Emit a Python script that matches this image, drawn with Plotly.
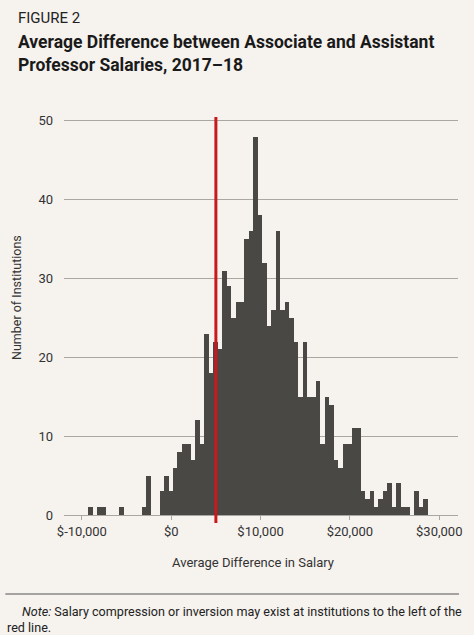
import plotly.graph_objects as go

# ── Data: histogram bins of 500 ($ left edge) and institution counts ──────────
BIN_WIDTH = 500
bin_left = [
    -9300, -8800, -8300, -7800, -7300, -6800, -6300, -5800, -5300, -4800,
    -4300, -3800, -3300, -2800, -2300, -1800, -1300, -800, -300, 200,
    700, 1200, 1700, 2200, 2700, 3200, 3700, 4200, 4700, 5200,
    5700, 6200, 6700, 7200, 7700, 8200, 8700, 9200, 9700, 10200,
    10700, 11200, 11700, 12200, 12700, 13200, 13700, 14200, 14700, 15200,
    15700, 16200, 16700, 17200, 17700, 18200, 18700, 19200, 19700, 20200,
    20700, 21200, 21700, 22200, 22700, 23200, 23700, 24200, 24700, 25200,
    25700, 26200, 26700, 27200, 27700, 28200,
]
counts = [
    1, 0, 1, 1, 0, 0, 0, 1, 0, 0,
    0, 0, 1, 5, 0, 0, 3, 5, 3, 6,
    8, 9, 9, 7, 12, 9, 23, 18, 22, 21,
    31, 29, 25, 27, 27, 35, 36, 48, 38, 32,
    24, 26, 36, 26, 27, 25, 22, 15, 22, 15,
    15, 17, 9, 15, 14, 7, 6, 9, 9, 11,
    11, 3, 2, 3, 1, 2, 3, 4, 1, 4,
    1, 1, 0, 3, 1, 2,
]
threshold = 5000  # red line

x_tickvals = [-10000, 0, 10000, 20000, 30000]
x_ticktext = ["$-10,000", "$0", "$10,000", "$20,000", "$30,000"]
y_tickvals = [0, 10, 20, 30, 40, 50]

BG = "#f6f2ee"
BAR = "#4a4845"
RED = "#c8191f"
GRID = "#aaa6a1"
FONT = "Roboto, Arial, sans-serif"

bin_center = [b + BIN_WIDTH / 2 for b in bin_left]

fig = go.Figure()
fig.add_trace(go.Bar(
    x=bin_center, y=counts, width=BIN_WIDTH,
    marker=dict(color=BAR, line=dict(width=0)),
    hoverinfo="x+y", showlegend=False,
))

# red reference line, poking slightly below the axis
fig.add_shape(
    type="line", xref="x", yref="paper",
    x0=threshold, x1=threshold, y0=-0.02, y1=0.99,
    line=dict(color=RED, width=3), layer="above",
)

fig.update_layout(
    width=474, height=635,
    margin=dict(l=64, r=14, t=113, b=120),
    paper_bgcolor=BG, plot_bgcolor=BG,
    font=dict(family=FONT, color="#333333", size=13),
    bargap=0,
    xaxis=dict(
        range=[-12000, 32100],
        tickvals=x_tickvals, ticktext=x_ticktext,
        showgrid=False, zeroline=False,
        showline=True, linecolor=GRID, linewidth=1,
        ticks="outside", ticklen=4, tickcolor=GRID,
        tickfont=dict(size=13, color="#333333"),
        fixedrange=True,
    ),
    yaxis=dict(
        range=[0, 51],
        tickvals=y_tickvals,
        showgrid=True, gridcolor=GRID, gridwidth=1,
        zeroline=False, showline=False,
        ticks="", ticklabelstandoff=10,
        tickfont=dict(size=13, color="#333333"),
        fixedrange=True,
    ),
)

# ── Titles and notes ───────────────────────────────────────────────────────────
fig.add_annotation(
    text="FIGURE 2", xref="paper", yref="paper",
    x=-0.121, y=1.236, xanchor="left", yanchor="middle", showarrow=False,
    font=dict(family=FONT, size=15, color="#222222"),
)
fig.add_annotation(
    text="<b>Average Difference between Associate and Assistant<br>"
         "Professor Salaries, 2017–18</b>",
    xref="paper", yref="paper", x=-0.121, y=1.148,
    xanchor="left", yanchor="middle", align="left", showarrow=False,
    font=dict(family=FONT, size=17.5, color="#1a1a1a"),
)
fig.add_annotation(
    text="Number of Institutions", textangle=-90,
    xref="paper", yref="paper", x=-0.119, y=0.54,
    xanchor="center", yanchor="middle", showarrow=False,
    font=dict(family=FONT, size=12.5, color="#333333"),
)
fig.add_annotation(
    text="Average Difference in Salary",
    xref="paper", yref="paper", x=0.48, y=-0.119,
    xanchor="center", yanchor="middle", showarrow=False,
    font=dict(family=FONT, size=13, color="#333333"),
)
fig.add_shape(
    type="line", xref="paper", yref="paper",
    x0=-0.149, x1=1.0025, y0=-0.1965, y1=-0.1965,
    line=dict(color="#555555", width=1.2),
)
fig.add_annotation(
    text="<i>Note:</i> Salary compression or inversion may exist at "
         "institutions to the left of the",
    xref="paper", yref="paper", x=-0.111, y=-0.239,
    xanchor="left", yanchor="middle", showarrow=False,
    font=dict(family=FONT, size=12.6, color="#222222"),
)
fig.add_annotation(
    text="red line.",
    xref="paper", yref="paper", x=-0.149, y=-0.279,
    xanchor="left", yanchor="middle", showarrow=False,
    font=dict(family=FONT, size=12.6, color="#222222"),
)

# drop the browser's default page margin so the figure sits at the window edge
fig.write_html(
    "out.html",
    config={"displayModeBar": False},
    post_script="document.body.style.margin='0';"
                "document.body.style.background='" + BG + "';",
)
